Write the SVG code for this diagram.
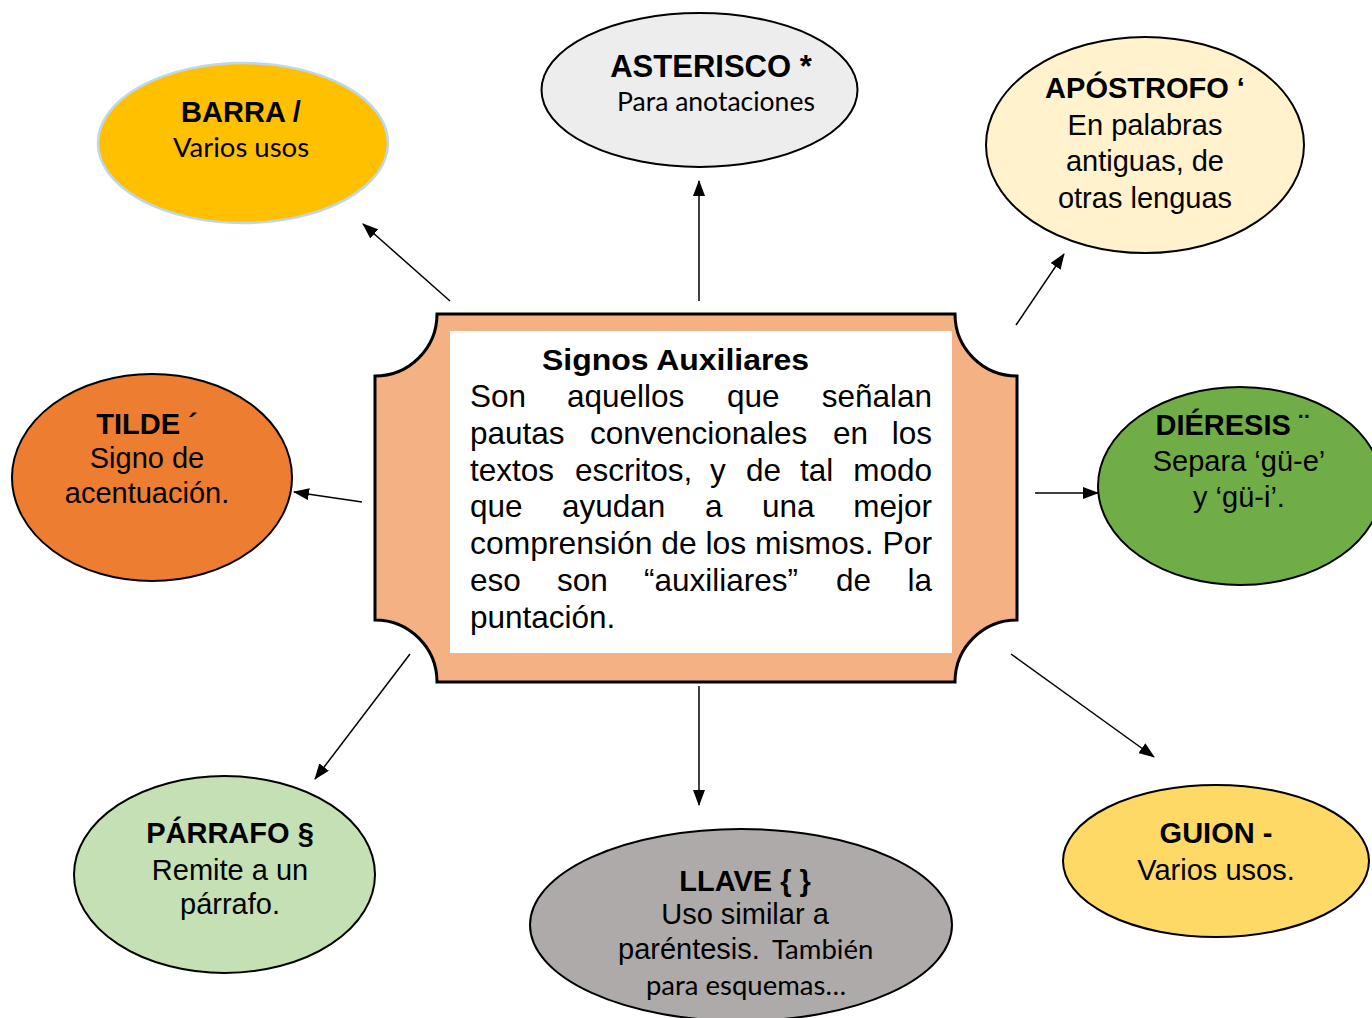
<svg xmlns="http://www.w3.org/2000/svg" width="1372" height="1018" viewBox="0 0 1372 1018">
<defs>
<marker id="ah" markerUnits="userSpaceOnUse" markerWidth="16" markerHeight="12" refX="15" refY="6" orient="auto">
<path d="M0,0 L16,6 L0,12 Z" fill="#000"/>
</marker>
<style>
.e{stroke:#000;stroke-width:2}
.b{font-family:"Liberation Sans",Arial,sans-serif;font-weight:bold;fill:#000;text-anchor:middle}
.r{font-family:"Liberation Sans",Arial,sans-serif;fill:#000;text-anchor:middle}
.c{font-family:Lato,"Open Sans",sans-serif;fill:#000;text-anchor:middle}
.m{font-family:"Liberation Sans",Arial,sans-serif;fill:#000;font-size:31.5px}
.con line{stroke:#000;stroke-width:1.5;marker-end:url(#ah)}
</style>
</defs>
<rect width="1372" height="1018" fill="#fff"/>

<g class="con">
<line x1="450" y1="301" x2="363" y2="224"/>
<line x1="699" y1="301" x2="699" y2="181"/>
<line x1="1016" y1="325" x2="1064" y2="254"/>
<line x1="362" y1="502" x2="294" y2="492"/>
<line x1="1035" y1="493" x2="1098" y2="493"/>
<line x1="410" y1="654" x2="315" y2="779"/>
<line x1="699" y1="686" x2="699" y2="805"/>
<line x1="1011" y1="654" x2="1154" y2="757"/>
</g>

<g id="center">
<path d="M437,314 H955 A62,62 0 0 0 1017,376 V620 A62,62 0 0 0 955,682 H437 A62,62 0 0 0 375,620 V376 A62,62 0 0 0 437,314 Z" fill="#F4B183" stroke="#000" stroke-width="3"/>
<rect x="450" y="331" width="502" height="322" fill="#fff"/>
<text class="b" x="542" y="370" font-size="30" style="text-anchor:start" textLength="267" lengthAdjust="spacingAndGlyphs">Signos Auxiliares</text>
<text class="m" y="407"><tspan x="470">Son</tspan><tspan x="567">aquellos</tspan><tspan x="727">que</tspan><tspan x="932" text-anchor="end">señalan</tspan></text>
<text class="m" y="444"><tspan x="470">pautas</tspan><tspan x="590">convencionales</tspan><tspan x="833">en</tspan><tspan x="932" text-anchor="end">los</tspan></text>
<text class="m" y="481"><tspan x="470">textos</tspan><tspan x="575">escritos,</tspan><tspan x="710">y</tspan><tspan x="746">de</tspan><tspan x="800">tal</tspan><tspan x="932" text-anchor="end">modo</tspan></text>
<text class="m" y="517"><tspan x="470">que</tspan><tspan x="562">ayudan</tspan><tspan x="705">a</tspan><tspan x="762">una</tspan><tspan x="932" text-anchor="end">mejor</tspan></text>
<text class="m" y="554" x="470" textLength="462" lengthAdjust="spacingAndGlyphs">comprensión de los mismos. Por</text>
<text class="m" y="591"><tspan x="470">eso</tspan><tspan x="557">son</tspan><tspan x="644">“auxiliares”</tspan><tspan x="836">de</tspan><tspan x="932" text-anchor="end">la</tspan></text>
<text class="m" y="628" x="470">puntación.</text>
</g>

<g id="barra">
<ellipse cx="243" cy="143" rx="145" ry="80" fill="#FFC000" stroke="#BDD7EE" stroke-width="2.5"/>
<text class="b" x="241" y="122" font-size="29">BARRA /</text>
<text class="c" x="241" y="157" font-size="27.5">Varios usos</text>
</g>

<g id="asterisco">
<ellipse class="e" cx="699.5" cy="90" rx="158" ry="77" fill="#EDEDED"/>
<text class="b" x="711" y="77" font-size="31">ASTERISCO *</text>
<text class="c" x="716" y="111" font-size="26.5">Para anotaciones</text>
</g>

<g id="apostrofo">
<ellipse class="e" cx="1145" cy="145" rx="159" ry="108" fill="#FFF2CC"/>
<text class="b" x="1145" y="98" font-size="29">APÓSTROFO ‘</text>
<text class="r" x="1145" y="135" font-size="29">En palabras</text>
<text class="r" x="1145" y="171" font-size="29">antiguas, de</text>
<text class="r" x="1145" y="208" font-size="29">otras lenguas</text>
</g>

<g id="tilde">
<ellipse class="e" cx="152" cy="477.5" rx="140" ry="103.5" fill="#ED7D31"/>
<text class="b" x="147" y="434" font-size="29">TILDE ´</text>
<text class="r" x="147" y="468" font-size="29">Signo de</text>
<text class="r" x="147" y="503" font-size="29">acentuación.</text>
</g>

<g id="dieresis">
<ellipse class="e" cx="1240" cy="486" rx="142" ry="99" fill="#70AD47"/>
<text class="b" x="1232" y="435" font-size="29">DIÉRESIS ¨</text>
<text class="r" x="1239" y="471" font-size="29">Separa ‘gü-e’</text>
<text class="r" x="1239" y="507" font-size="29">y ‘gü-i’.</text>
</g>

<g id="guion">
<ellipse class="e" cx="1216" cy="861" rx="153" ry="76" fill="#FFD966"/>
<text class="b" x="1216" y="843" font-size="29">GUION -</text>
<text class="r" x="1216" y="880" font-size="29">Varios usos.</text>
</g>

<g id="llave">
<ellipse class="e" cx="741" cy="925" rx="211" ry="96" fill="#AEAAAA"/>
<text class="b" x="745" y="891" font-size="29">LLAVE { }</text>
<text class="r" x="745" y="924" font-size="29">Uso similar a</text>
<text class="r" x="618" y="959" font-size="29" style="text-anchor:start">paréntesis.</text>
<text class="c" x="772" y="959" font-size="27.5" style="text-anchor:start">También</text>
<text class="c" x="746" y="995" font-size="27.5">para esquemas…</text>
</g>

<g id="parrafo">
<ellipse class="e" cx="224.5" cy="874.5" rx="150.5" ry="98.5" fill="#C5E0B4"/>
<text class="b" x="230" y="843" font-size="29">PÁRRAFO §</text>
<text class="r" x="230" y="880" font-size="29">Remite a un</text>
<text class="r" x="230" y="914" font-size="29">párrafo.</text>
</g>
</svg>
